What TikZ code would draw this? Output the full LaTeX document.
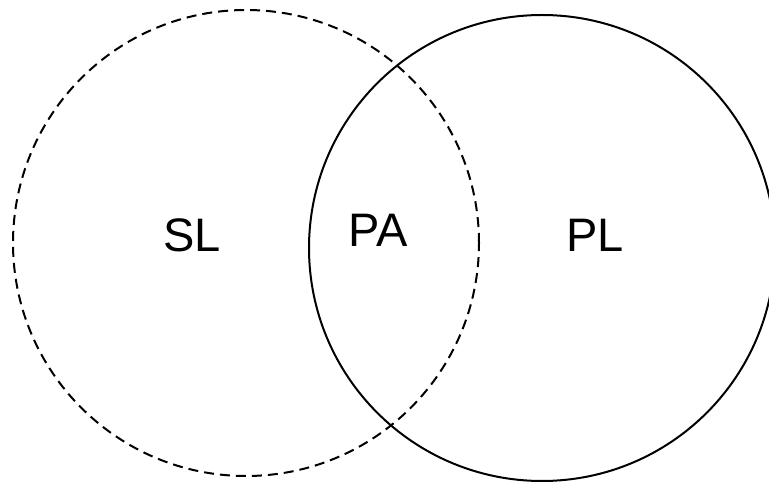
\documentclass[tikz,border=0pt]{standalone}
\usepackage{fontspec}
\setmainfont{Liberation Sans}
\usepackage{tikz}

\begin{document}
\begin{tikzpicture}[x=1pt,y=1pt,
  setn/.style={draw=black, circle, line width=2pt, inner sep=0pt, minimum size=466pt},
  dashn/.style={setn, dash pattern=on 10pt off 6pt},
  labeln/.style={draw=none, inner sep=0pt, font=\fontsize{47}{56}\selectfont}]
  \useasboundingbox (0,0) rectangle (769,485);
  \node[dashn] (sl) at (246,242) {};
  \node[setn] (pl) at (542,237) {};
  \node[labeln] (sltext) at (192,250) {SL};
  \node[labeln] (patext) at (378,255) {PA};
  \node[labeln] (pltext) at (595,250) {PL};
\end{tikzpicture}
\end{document}
